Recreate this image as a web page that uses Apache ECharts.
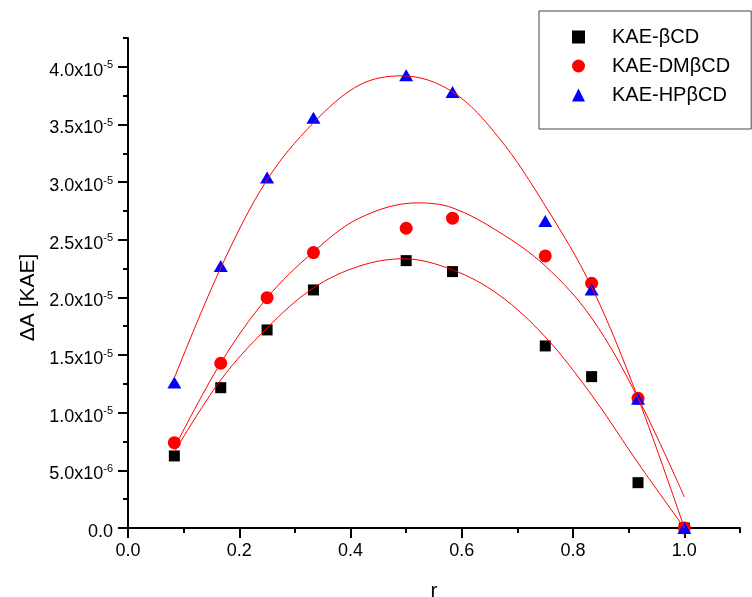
<!DOCTYPE html>
<html><head><meta charset="utf-8">
<script src="https://cdn.jsdelivr.net/npm/echarts@6/dist/echarts.min.js"></script>
<style>html,body{margin:0;padding:0;background:#fff}#c{width:752px;height:597px}</style>
</head><body><div id="c"></div>
<script>
// measured points
const rPoints = [0.0833, 0.1667, 0.25, 0.3333, 0.5, 0.5833, 0.75, 0.8333, 0.9167, 1.0];
const kaeBCD   = [6.25e-6, 1.217e-5, 1.718e-5, 2.065e-5, 2.319e-5, 2.224e-5, 1.579e-5, 1.313e-5, 3.93e-6, 0];
const kaeDMBCD = [7.40e-6, 1.429e-5, 1.998e-5, 2.389e-5, 2.600e-5, 2.687e-5, 2.360e-5, 2.123e-5, 1.125e-5, 0];
const kaeHPBCD = [1.262e-5, 2.272e-5, 3.039e-5, 3.559e-5, 3.926e-5, 3.781e-5, 2.662e-5, 2.069e-5, 1.121e-5, 0];
// fitted curves
const fitR_BCD   = [0.0833, 0.1667, 0.25, 0.3333, 0.4167, 0.495, 0.5833, 0.6667, 0.75, 0.8333, 0.9167, 1.0];
const fitBCD     = [6.59e-6, 1.284e-5, 1.735e-5, 2.082e-5, 2.273e-5, 2.335e-5, 2.239e-5, 2.022e-5, 1.657e-5, 1.154e-5, 5.64e-6, 0];
const fitR_DM    = [0.0833, 0.1667, 0.25, 0.3333, 0.4167, 0.52, 0.5833, 0.6667, 0.75, 0.8333, 0.9167, 1.0];
const fitDMBCD   = [6.94e-6, 1.432e-5, 1.996e-5, 2.395e-5, 2.690e-5, 2.820e-5, 2.777e-5, 2.568e-5, 2.273e-5, 1.822e-5, 1.128e-5, 2.69e-6];
const fitR_HP    = [0.0833, 0.1667, 0.25, 0.3333, 0.4167, 0.493, 0.5833, 0.6667, 0.75, 0.8333, 0.9167, 1.0];
const fitHPBCD   = [1.302e-5, 2.256e-5, 3.020e-5, 3.514e-5, 3.844e-5, 3.922e-5, 3.783e-5, 3.384e-5, 2.794e-5, 2.091e-5, 1.128e-5, 0];
const seriesNames = ['KAE-\u03B2CD', 'KAE-DM\u03B2CD', 'KAE-HP\u03B2CD'];
const xTitle = 'r';
const yTitle = '\u0394A [KAE]';

const FONT = '"Liberation Sans", Arial, sans-serif';
const pairs = (xs, ys) => xs.map((x, i) => [x, ys[i]]);
function fmtY(v) {
  if (v === 0) return '{m|0.0}';
  const e = Math.floor(Math.log10(v) + 1e-9);
  const m = v / Math.pow(10, e);
  return '{m|' + m.toFixed(1) + 'x10}{e|' + e + '}';
}
const L = 128, T = 38, W = 612, H = 490;
const W1 = W / 1.1, H1 = H * 4 / 4.25;
const SMOOTH = 0.35;

const chart = echarts.init(document.getElementById('c'), null, {renderer: 'canvas'});
chart.setOption({
  animation: false,
  backgroundColor: '#fff',
  textStyle: {fontFamily: FONT},
  grid: [
    {left: L, top: T, width: W, height: H, containLabel: false, outerBoundsMode: 'none'},
    {left: L, top: T + H - H1, width: W1, height: H1, containLabel: false, outerBoundsMode: 'none'}
  ],
  xAxis: [
    {gridIndex: 0, type: 'value', min: 0, max: 1.1, interval: 0.1,
     axisLine: {show: true, onZero: false, lineStyle: {color: '#000', width: 2}},
     axisTick: {show: true, length: 5, lineStyle: {color: '#000', width: 2}},
     axisLabel: {show: false}, splitLine: {show: false},
     name: xTitle, nameLocation: 'middle', nameGap: 53,
     nameTextStyle: {fontSize: 21, color: '#000', fontFamily: FONT}},
    {gridIndex: 1, type: 'value', min: 0, max: 1.0, interval: 0.2,
     axisLine: {show: false},
     axisTick: {show: true, length: 10, lineStyle: {color: '#000', width: 2}},
     axisLabel: {show: true, margin: 14, fontSize: 18, color: '#000', fontFamily: FONT,
                 formatter: v => v.toFixed(1)},
     splitLine: {show: false}}
  ],
  yAxis: [
    {gridIndex: 0, type: 'value', min: 0, max: 4.25e-5, interval: 2.5e-6,
     axisLine: {show: true, onZero: false, lineStyle: {color: '#000', width: 2}},
     axisTick: {show: true, length: 5, lineStyle: {color: '#000', width: 2}},
     axisLabel: {show: false}, splitLine: {show: false}},
    {gridIndex: 1, type: 'value', min: 0, max: 4.0e-5, interval: 5e-6,
     axisLine: {show: false},
     axisTick: {show: true, length: 10, lineStyle: {color: '#000', width: 2}},
     axisLabel: {show: true, margin: 15, color: '#000', fontFamily: FONT, formatter: fmtY,
                 lineHeight: 22, padding: [6, 0, 0, 0],
                 rich: {
                   m: {fontSize: 18, lineHeight: 20, color: '#000', fontFamily: FONT, verticalAlign: 'bottom'},
                   e: {fontSize: 11, lineHeight: 11, color: '#000', fontFamily: FONT, verticalAlign: 'top'}
                 }},
     splitLine: {show: false},
     name: yTitle, nameLocation: 'middle', nameGap: 87, nameRotate: 90,
     nameTextStyle: {fontSize: 21, color: '#000', fontFamily: FONT}}
  ],
  legend: {
    orient: 'vertical', left: 539, top: 11,
    data: seriesNames,
    itemWidth: 13, itemHeight: 13, itemGap: 9, symbolKeepAspect: true,
    padding: [16, 21, 24, 33],
    borderColor: '#444', borderWidth: 1,
    textStyle: {fontSize: 20, color: '#000', fontFamily: FONT, lineHeight: 20, padding: [0, 0, 0, 22]},
    selectedMode: false
  },
  series: [
    {name: seriesNames[0], type: 'scatter', data: pairs(rPoints, kaeBCD), symbol: 'rect', symbolSize: 11,
     itemStyle: {color: '#000', opacity: 1}, clip: false, z: 2},
    {name: seriesNames[1], type: 'scatter', data: pairs(rPoints, kaeDMBCD), symbol: 'circle', symbolSize: 13,
     itemStyle: {color: '#ff0000', opacity: 1}, clip: false, z: 3},
    {name: seriesNames[2], type: 'scatter', data: pairs(rPoints, kaeHPBCD), symbol: 'triangle', symbolSize: [14, 12],
     itemStyle: {color: '#0000ff', opacity: 1}, clip: false, z: 4},
    {name: 'fit1', type: 'line', data: pairs(fitR_BCD, fitBCD), smooth: SMOOTH, showSymbol: false, symbol: 'none',
     lineStyle: {color: '#ff0000', width: 1}, z: 5, silent: true},
    {name: 'fit2', type: 'line', data: pairs(fitR_DM, fitDMBCD), smooth: SMOOTH, showSymbol: false, symbol: 'none',
     lineStyle: {color: '#ff0000', width: 1}, z: 5, silent: true},
    {name: 'fit3', type: 'line', data: pairs(fitR_HP, fitHPBCD), smooth: SMOOTH, showSymbol: false, symbol: 'none',
     lineStyle: {color: '#ff0000', width: 1}, z: 5, silent: true}
  ]
});
</script></body></html>
